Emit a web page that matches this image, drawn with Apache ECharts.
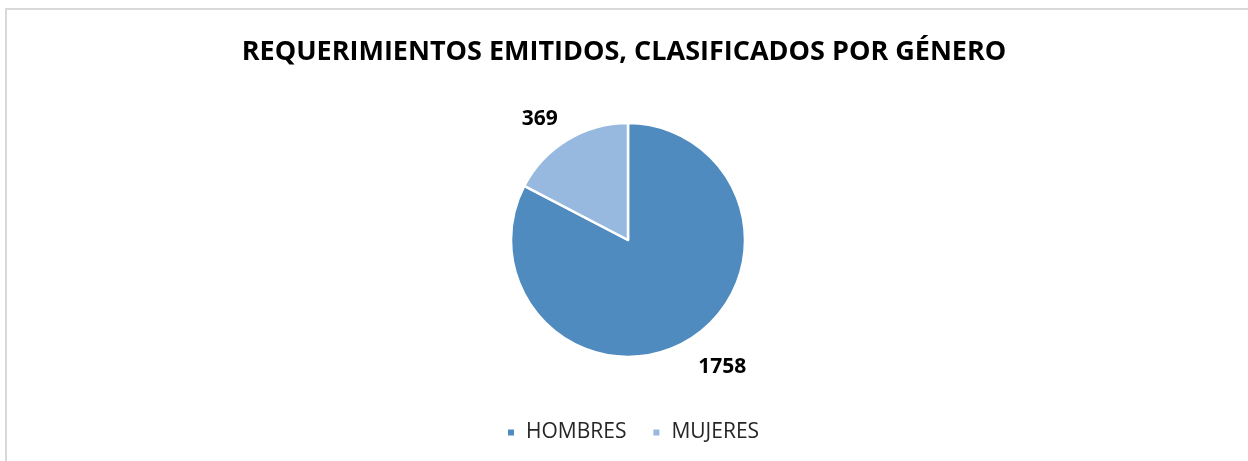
<!DOCTYPE html>
<html><head><meta charset="utf-8">
<script src="https://cdn.jsdelivr.net/npm/echarts@6/dist/echarts.min.js"></script>
<style>
html,body{margin:0;padding:0;background:#fff;}
#frame{position:absolute;left:5px;top:8px;width:1260px;height:470px;border-top:2px solid #d9d9d9;border-left:2px solid #d9d9d9;box-sizing:border-box;}
#c{position:absolute;left:0;top:0;width:1248px;height:461px;}
</style></head>
<body>
<div id="frame"></div>
<div id="c"></div>
<script>
const titleText = 'REQUERIMIENTOS EMITIDOS, CLASIFICADOS POR GÉNERO';
const categories = ['HOMBRES', 'MUJERES'];
const values = [1758, 369];
const colors = ['#4f8bbe', '#97b9e0'];

const chart = echarts.init(document.getElementById('c'), null, {renderer: 'canvas'});
chart.setOption({
  backgroundColor: 'transparent',
  animation: false,
  title: {
    text: titleText,
    left: 'center',
    top: 34,
    textStyle: {fontFamily: 'Open Sans', fontWeight: 'bold', fontSize: 27, color: '#000'}
  },
  legend: {
    data: categories,
    bottom: 13,
    left: 501,
    icon: 'rect',
    itemWidth: 8,
    itemHeight: 8,
    itemGap: 25,
    textStyle: {fontFamily: 'Open Sans', fontSize: 21, color: '#262626', padding: [0, 0, 0, 6]}
  },
  series: [{
    type: 'pie',
    center: [628, 240],
    radius: [0, 117],
    startAngle: 90,
    clockwise: true,
    avoidLabelOverlap: false,
    data: categories.map((n, i) => ({name: n, value: values[i], itemStyle: {color: colors[i]}})),
    itemStyle: {borderColor: '#fff', borderWidth: 2.5},
    label: {
      show: true,
      position: 'outside',
      formatter: '{c}',
      fontFamily: 'Open Sans',
      fontWeight: 'bold',
      fontSize: 21,
      color: '#000'
    },
    labelLayout: {dy: 3},
    labelLine: {show: false, length: 28, length2: -10},
    emphasis: {disabled: true}
  }]
});
</script>
</body></html>
